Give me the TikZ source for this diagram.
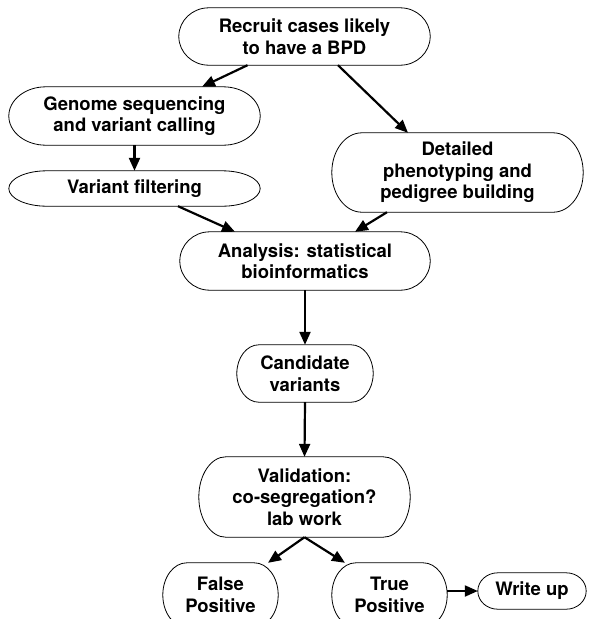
\documentclass[tikz,border=0pt]{standalone}
\usepackage{fontspec}
\setmainfont{TeX Gyre Heros}
\usetikzlibrary{arrows.meta,calc}

\tikzset{
  box/.style={inner sep=0pt, align=center, font=\fontsize{18.5}{21.5}\selectfont\bfseries},
  outline/.style={draw=black, line width=0.8pt},
  flow/.style={line width=2.2pt, -{Triangle[length=13pt,width=11pt]}}
}

% Stadium outline round a named node: straight top and bottom, elliptical ends
\newcommand\pillpath[2]{%
  \draw[outline] let \p1=(#1.north west), \p2=(#1.south east) in
    (\x1+#2pt,\y1) -- (\x2-#2pt,\y1)
    arc[start angle=90, end angle=-90, x radius=#2pt, y radius={(\y1-\y2)/2}]
    -- (\x1+#2pt,\y2)
    arc[start angle=270, end angle=90, x radius=#2pt, y radius={(\y1-\y2)/2}]
    -- cycle;}

\begin{document}
\begin{tikzpicture}[x=1pt,y=1pt]
\useasboundingbox (0,0) rectangle (592,-619);
\clip (0,0) rectangle (592,-619);

\node[box, minimum width=251pt, minimum height=57pt] (rec) at (304.5,-36.5) {Recruit cases likely\\to have a BPD};
\node[box, minimum width=251pt, minimum height=58pt] (gen) at (134.5,-116) {Genome sequencing\\and variant calling};
\node[box, minimum width=251pt, minimum height=35pt] (vf) at (134.5,-188.5) {Variant filtering};
\node[box, minimum width=251pt, minimum height=79pt] (det) at (457.5,-172.5) {Detailed\\phenotyping and\\pedigree building};
\node[box, minimum width=250pt, minimum height=58pt] (ana) at (305,-261) {Analysis: statistical\\bioinformatics};
\node[box, minimum width=136pt, minimum height=57pt] (cand) at (305,-373.5) {Candidate\\variants};
\node[box, minimum width=211pt, minimum height=80pt] (val) at (304.5,-497) {Validation:\\co-segregation?\\lab work};
\node[box, minimum width=115pt, minimum height=64pt] (fp) at (220.5,-595) {False\\Positive};
\node[box, minimum width=115pt, minimum height=64pt] (tp) at (389.5,-595) {True\\Positive};
\node[box, minimum width=108pt, minimum height=36pt] (wu) at (532,-591) {Write up};

\foreach \nm/\rr in {rec/30, gen/37, vf/38, det/30, ana/30, cand/22, val/27, fp/24, tp/24, wu/20}
  \pillpath{\nm}{\rr};

\draw[flow] ([xshift=-57pt]rec.south) -- ([xshift=67.5pt]gen.north);
\draw[flow] ([xshift=33.5pt]rec.south) -- ([xshift=-49.5pt]det.north);
\draw[flow] (gen.south) -- (vf.north);
\draw[flow] ([xshift=43.5pt]vf.south) -- ([xshift=-70pt]ana.north);
\draw[flow] ([xshift=-70.5pt]det.south) -- ([xshift=50pt]ana.north);
\draw[flow] (ana.south) -- (cand.north);
\draw[flow] (cand.south) -- (val.north);
\draw[flow] (val.south) -- ([xshift=47.5pt]fp.north);
\draw[flow] (val.south) -- ([xshift=-44.5pt]tp.north);
\draw[flow] (tp.east |- wu.west) -- (wu.west);
\end{tikzpicture}
\end{document}
